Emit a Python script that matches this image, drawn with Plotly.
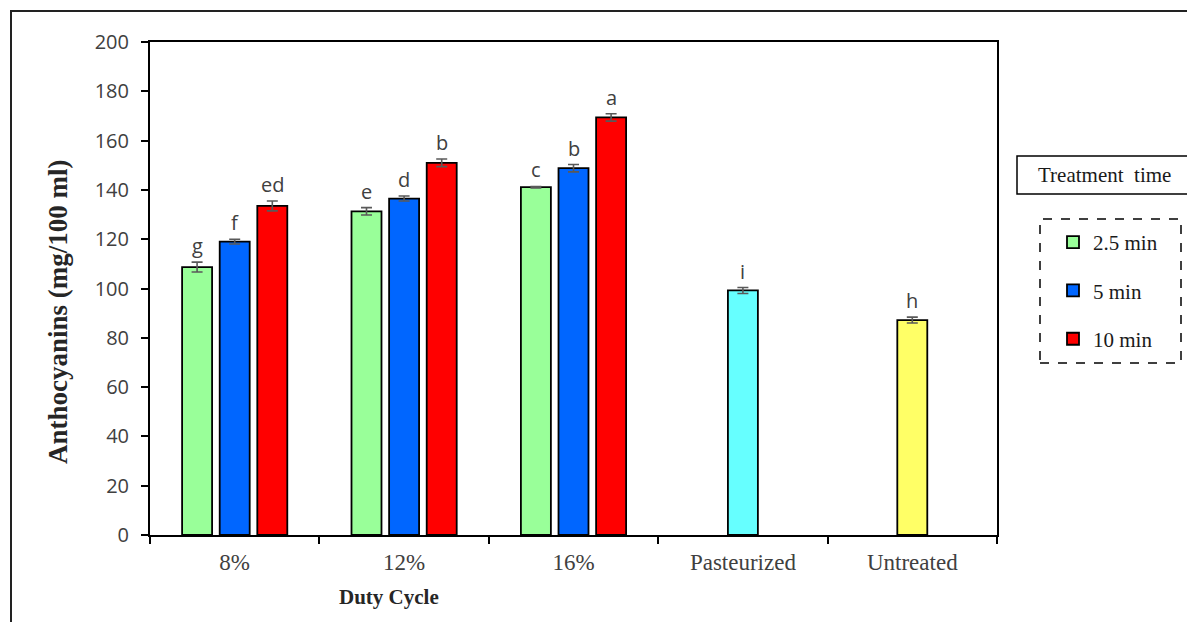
import plotly.graph_objects as go

# ---------------- data ----------------
categories = ["8%", "12%", "16%", "Pasteurized", "Untreated"]
duty_groups = ["8%", "12%", "16%"]

time_25 = [108.7, 131.3, 141.1]
err_25 = [2.0, 1.5, 0.3]
let_25 = ["g", "e", "c"]

time_5 = [119.0, 136.5, 148.8]
err_5 = [0.95, 1.0, 1.5]
let_5 = ["f", "d", "b"]

time_10 = [133.5, 151.0, 169.4]
err_10 = [2.0, 1.55, 1.5]
let_10 = ["ed", "b", "a"]

control_names = ["Pasteurized", "Untreated"]
control_vals = [99.2, 87.2]
control_err = [1.2, 1.2]
control_let = ["i", "h"]

series_names = ["2.5 min", "5 min", "10 min"]
y_ticks = [0, 20, 40, 60, 80, 100, 120, 140, 160, 180, 200]

# ---------------- layout constants ----------------
OFF = 8                      # page body margin
W, H = 1195 - OFF, 622 - OFF
L, T = 150 - OFF, 42 - OFF
PW, PH = 847, 493
R, B = W - L - PW, H - T - PH


def px2x(px):   # page pixel -> paper x
    return (px - OFF - L) / PW


def py2y(py):   # page pixel -> paper y
    return (T + PH - (py - OFF)) / PH


BAR_W = 0.177
STEP = 0.222
SANS = "Open Sans"
SERIF = "Liberation Serif"
TXT = "#404040"
ERRC = "#595959"

fig = go.Figure()

series = [
    (series_names[0], time_25, err_25, let_25, "#99FF99", -STEP),
    (series_names[1], time_5, err_5, let_5, "#0066FF", 0.0),
    (series_names[2], time_10, err_10, let_10, "#FF0000", STEP),
]

annotations = []
for name, vals, errs, lets, col, off in series:
    fig.add_trace(go.Bar(
        x=duty_groups, y=vals, name=name, legendgroup=name,
        width=BAR_W, offset=off - BAR_W / 2,
        marker=dict(color=col, line=dict(color="black", width=1.8)),
        error_y=dict(type="data", array=errs, visible=True,
                     color=ERRC, thickness=1.6, width=5.5),
    ))
    for i, (v, e, t) in enumerate(zip(vals, errs, lets)):
        annotations.append(dict(
            x=i + off, y=v + e, xref="x", yref="y", text=t,
            showarrow=False, xanchor="center", yanchor="bottom", yshift=1,
            font=dict(family=SANS, size=20, color=TXT)))

ctrl_colors = ["#66FFFF", "#FFFF66"]
for j, (nm, v, e, t) in enumerate(zip(control_names, control_vals, control_err, control_let)):
    fig.add_trace(go.Bar(
        x=[nm], y=[v], showlegend=False, width=BAR_W, offset=-BAR_W / 2,
        marker=dict(color=ctrl_colors[j], line=dict(color="black", width=1.8)),
        error_y=dict(type="data", array=[e], visible=True,
                     color=ERRC, thickness=1.6, width=5.5),
    ))
    annotations.append(dict(
        x=3 + j, y=v + e, xref="x", yref="y", text=t,
        showarrow=False, xanchor="center", yanchor="bottom", yshift=1,
        font=dict(family=SANS, size=20, color=TXT)))

# y-axis title
annotations.append(dict(
    x=px2x(58), y=py2y(312), xref="paper", yref="paper",
    xanchor="center", yanchor="middle", textangle=-90,
    text="<b>Anthocyanins (mg/100 ml)</b>", showarrow=False,
    font=dict(family=SERIF, size=27, color="#262626")))

# x-axis title placed under the duty cycle groups
annotations.append(dict(
    x=px2x(389), y=py2y(597), xref="paper", yref="paper",
    xanchor="center", yanchor="middle",
    text="<b>Duty Cycle</b>", showarrow=False,
    font=dict(family=SERIF, size=21, color="#262626")))

# legend heading box text
annotations.append(dict(
    x=px2x(1104.5), y=py2y(175), xref="paper", yref="paper",
    xanchor="center", yanchor="middle",
    text="Treatment  time", showarrow=False,
    font=dict(family=SERIF, size=21, color="#1a1a1a")))

shapes = [
    # outer frame
    dict(type="rect", xref="paper", yref="paper",
         x0=px2x(11), y0=py2y(660), x1=px2x(1230), y1=py2y(11),
         line=dict(color="#222222", width=2), layer="below"),
    # legend heading box
    dict(type="rect", xref="paper", yref="paper",
         x0=px2x(1017), y0=py2y(194), x1=px2x(1192), y1=py2y(156),
         line=dict(color="black", width=1.5)),
    # dashed legend box
    dict(type="rect", xref="paper", yref="paper",
         x0=px2x(1040), y0=py2y(363), x1=px2x(1181), y1=py2y(219),
         line=dict(color="black", width=1.5, dash="dash")),
]

fig.update_layout(
    width=W, height=H,
    margin=dict(l=L, r=R, t=T, b=B),
    paper_bgcolor="white", plot_bgcolor="white",
    barmode="overlay",
    showlegend=True,
    legend=dict(
        x=px2x(1053), y=py2y(222), xanchor="left", yanchor="top",
        font=dict(family=SERIF, size=21, color="#1a1a1a"),
        bgcolor="rgba(0,0,0,0)", borderwidth=0,
        tracegroupgap=18, itemwidth=30,
    ),
    annotations=annotations,
    shapes=shapes,
)

fig.update_xaxes(
    type="category", categoryorder="array", categoryarray=categories,
    showline=True, linecolor="black", linewidth=2, mirror=True,
    ticks="outside", tickson="boundaries", ticklen=7, tickwidth=1.5, tickcolor="black",
    tickfont=dict(family=SERIF, size=23, color=TXT), ticklabelstandoff=5,
    showgrid=False, zeroline=False,
)
fig.update_yaxes(
    range=[0, 200], tickmode="array", tickvals=y_ticks,
    showline=True, linecolor="black", linewidth=2, mirror=True,
    ticks="outside", ticklen=7, tickwidth=1.5, tickcolor="black",
    tickfont=dict(family=SANS, size=20, color=TXT), ticklabelstandoff=8,
    showgrid=False, zeroline=False,
)

fig.write_html("out.html")
